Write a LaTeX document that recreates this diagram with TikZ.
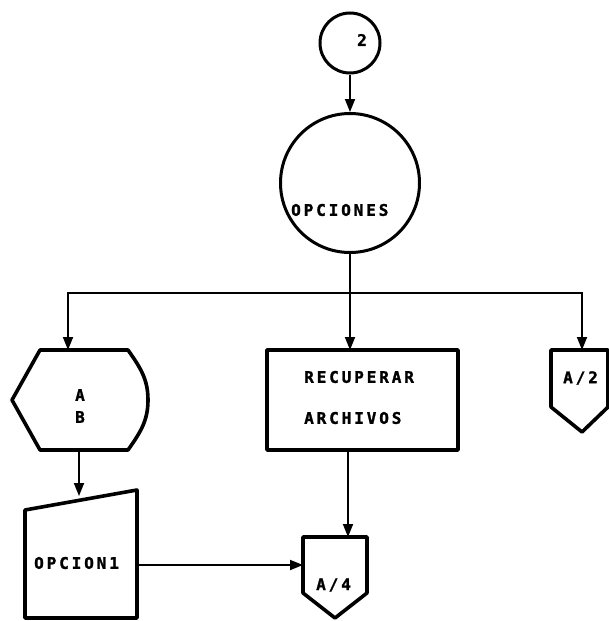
\documentclass[tikz,border=0pt]{standalone}
\usepackage{fontspec}
\usetikzlibrary{arrows.meta}
\newfontfamily\pixfam[LetterSpace=18,FakeBold=1.5]{DejaVu Sans Mono Bold}
\newcommand{\pixfont}{\pixfam\fontsize{16}{18}\selectfont}
\begin{document}
\begin{tikzpicture}[x=1pt,y=-1pt,
  outline/.style={line width=3.6pt, line join=round},
  conn/.style={line width=1.8pt},
  arr/.style={conn,-{Triangle[width=10pt,length=13pt]}},
  lbl/.style={font=\pixfont, inner sep=0pt, anchor=west}]
\useasboundingbox (0,0) rectangle (609,621);
% top connector circle and process circle
\node[circle, draw, line width=3pt, minimum size=60pt, inner sep=0pt] (c2) at (350,43) {};
\node[lbl] (t2) at (357,40) {2};
\node[circle, draw, line width=3pt, minimum size=139pt, inner sep=0pt] (opc) at (350,183) {};
\node[lbl] (topc) at (291,210) {OPCIONES};
\draw[arr] (c2.south) -- (opc.north);
% branching
\coordinate (split) at (350,293);
\coordinate (abin) at (68,350);
\coordinate (recin) at (350,350);
\coordinate (a2in) at (582,350);
\draw[conn] (opc.south) -- (split);
\draw[arr] (split) -| (abin);
\draw[arr] (split) -- (recin);
\draw[arr] (split) -| (a2in);
% display shape A B
\draw[outline] (12,400) -- (40,350) -- (128,350) to[out=-55,in=90] (148,400) to[out=-90,in=55] (128,450) -- (40,450) -- cycle;
\node[font=\pixfont, inner sep=0pt, align=center] (tab) at (80,406) {A\\[4pt]B};
% process rectangle
\node[draw, outline, minimum width=191pt, minimum height=100pt, inner sep=0pt] (rec) at (362.5,400) {};
\node[lbl] (trec1) at (304,377) {RECUPERAR};
\node[lbl] (trec2) at (304,418) {ARCHIVOS};
% off-page connector A/2
\draw[outline] (551,350) -- (608,350) -- (608,407) -- (582,432) -- (551,407) -- cycle;
\node[lbl] (ta2) at (563,378) {A/2};
% manual input OPCION1
\draw[outline] (25,510) -- (137,490) -- (137,618) -- (25,618) -- cycle;
\node[lbl] (top1) at (34,563) {OPCION1};
% off-page connector A/4
\draw[outline] (303,537) -- (367,537) -- (367,593) -- (335,618) -- (303,593) -- cycle;
\node[lbl] (ta4) at (316,585) {A/4};
% remaining connectors
\coordinate (about) at (79,450);
\coordinate (opin) at (79,496);
\coordinate (opout) at (137,565);
\coordinate (a4left) at (303,565);
\coordinate (recout) at (348,450);
\coordinate (a4top) at (348,537);
\draw[arr] (about) -- (opin);
\draw[arr] (opout) -- (a4left);
\draw[arr] (recout) -- (a4top);
\end{tikzpicture}
\end{document}
